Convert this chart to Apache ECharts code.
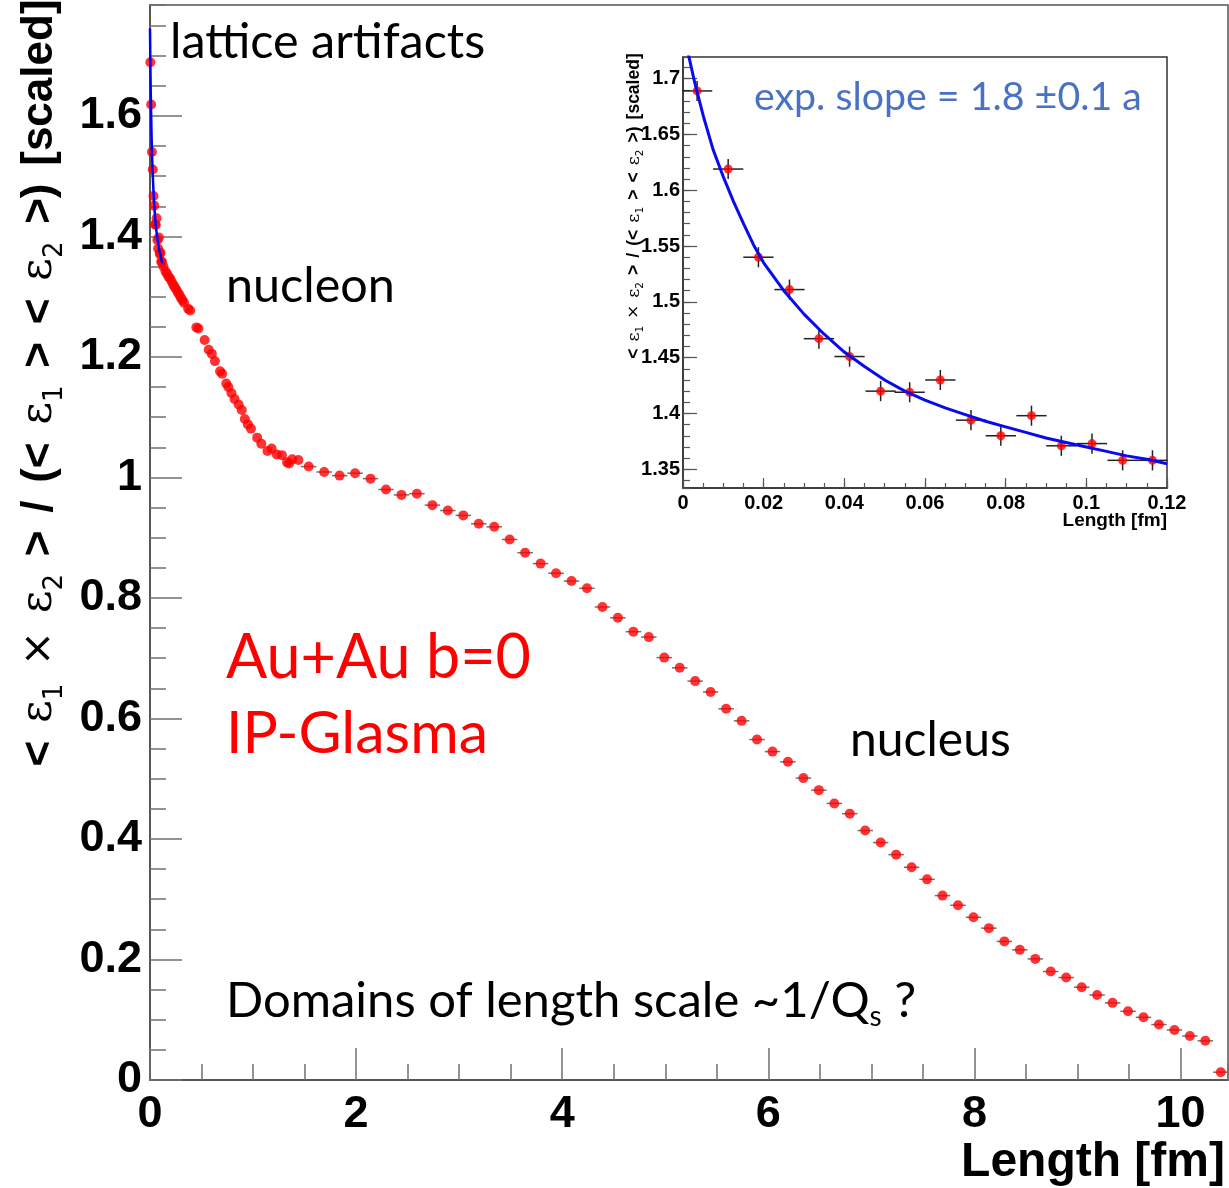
<!DOCTYPE html>
<html>
<head>
<meta charset="utf-8">
<script src="https://cdn.jsdelivr.net/npm/echarts@6/dist/echarts.min.js"></script>
<style>
  html, body { margin: 0; padding: 0; background: #fff; }
  #chart { width: 1229px; height: 1188px; }
</style>
</head>
<body>
<div id="chart"></div>
<script>
// first 16 fine-lattice bins (shown in the inset and at x≈0 of the main plot)
const insetX = [0.0035, 0.0112, 0.0187, 0.0264, 0.0337, 0.0413, 0.0490, 0.0562, 0.0638, 0.0714, 0.0788, 0.0864, 0.0938, 0.1014, 0.1090, 0.1164]
const insetY = [1.689, 1.619, 1.540, 1.511, 1.467, 1.451, 1.420, 1.419, 1.430, 1.394, 1.380, 1.398, 1.371, 1.373, 1.358, 1.358]
const insetXErr = 0.00375
const insetYErr = 0.009

// nucleon-scale region, dense points
const midX = [0.13, 0.15, 0.165, 0.18, 0.195, 0.21, 0.225, 0.24, 0.255, 0.27, 0.285, 0.30, 0.315, 0.33, 0.37, 0.39, 0.45, 0.47, 0.53, 0.57, 0.60, 0.63, 0.68, 0.70, 0.74, 0.76, 0.79, 0.82, 0.86, 0.89, 0.92, 0.95, 0.98, 1.04, 1.08, 1.14, 1.18, 1.23, 1.28, 1.33, 1.35, 1.38, 1.44]
const midY = [1.350, 1.342, 1.338, 1.333, 1.330, 1.325, 1.320, 1.316, 1.312, 1.307, 1.303, 1.298, 1.294, 1.290, 1.280, 1.277, 1.249, 1.247, 1.228, 1.212, 1.205, 1.193, 1.176, 1.172, 1.156, 1.150, 1.140, 1.130, 1.121, 1.112, 1.097, 1.088, 1.081, 1.066, 1.056, 1.044, 1.048, 1.038, 1.037, 1.025, 1.023, 1.030, 1.029]

// nucleus-scale region, 0.15 fm bins
const tailX = [1.54, 1.69, 1.84, 1.99, 2.14, 2.29, 2.44, 2.59, 2.74, 2.89, 3.04, 3.19, 3.34, 3.49, 3.64, 3.79, 3.94, 4.09, 4.24, 4.39, 4.54, 4.69, 4.84, 4.99, 5.14, 5.29, 5.44, 5.59, 5.74, 5.89, 6.04, 6.19, 6.34, 6.49, 6.64, 6.79, 6.94, 7.09, 7.24, 7.39, 7.54, 7.69, 7.84, 7.99, 8.14, 8.29, 8.44, 8.59, 8.74, 8.89, 9.04, 9.19, 9.34, 9.49, 9.64, 9.79, 9.94, 10.09, 10.24, 10.39]
const tailY = [1.018, 1.009, 1.003, 1.007, 0.998, 0.980, 0.971, 0.973, 0.954, 0.945, 0.937, 0.923, 0.918, 0.897, 0.875, 0.857, 0.841, 0.828, 0.816, 0.785, 0.767, 0.744, 0.735, 0.701, 0.684, 0.662, 0.644, 0.616, 0.596, 0.565, 0.545, 0.528, 0.501, 0.481, 0.459, 0.442, 0.414, 0.394, 0.374, 0.353, 0.333, 0.306, 0.290, 0.270, 0.252, 0.230, 0.216, 0.201, 0.180, 0.170, 0.154, 0.141, 0.128, 0.114, 0.104, 0.092, 0.083, 0.073, 0.065, 0.013]
const tailXErr = 0.075

// exponential fit over the first bins
const fitX = [0, 0.0015, 0.003, 0.005, 0.0075, 0.01, 0.0125, 0.015, 0.0175, 0.02, 0.025, 0.03, 0.035, 0.04, 0.045, 0.05, 0.055, 0.06, 0.065, 0.07, 0.075, 0.08, 0.085, 0.09, 0.095, 0.1, 0.105, 0.11, 0.115, 0.12]
const fitY = [1.745, 1.719, 1.695, 1.667, 1.636, 1.612, 1.590, 1.570, 1.551, 1.535, 1.510, 1.489, 1.471, 1.455, 1.442, 1.430, 1.420, 1.412, 1.405, 1.399, 1.393, 1.388, 1.383, 1.378, 1.374, 1.370, 1.366, 1.362, 1.359, 1.355]

const zip = (xs, ys) => xs.map((x, i) => [x, ys[i]])

const chart = echarts.init(document.getElementById("chart"), null, { renderer: "canvas" })

const bold = "Liberation Sans"
const gill = "Lato"

// ROOT-ish axis: ticks inside, no grid
function axis(grid, opts) {
  return Object.assign({
    type: "value",
    gridIndex: grid,
    splitLine: { show: false },
    axisLine: { show: true, onZero: false, lineStyle: { color: "#4a4a4a", width: 1.5 } },
    axisTick: { show: true, inside: true, lineStyle: { color: "#707070", width: 1.5 } },
    axisLabel: { show: false },
  }, opts)
}

// error bars as a custom series
function errBars(xs, ys, ex, ey, xi, yi, color) {
  return {
    type: "custom",
    xAxisIndex: xi,
    yAxisIndex: yi,
    silent: true,
    z: 2,
    data: zip(xs, ys),
    renderItem: (params, api) => {
      const x = api.value(0), y = api.value(1)
      const kids = []
      const a = api.coord([x - ex, y]), b = api.coord([x + ex, y])
      kids.push({ type: "line", shape: { x1: a[0], y1: a[1], x2: b[0], y2: b[1] }, style: { stroke: color, lineWidth: 1.5 } })
      if (ey) {
        const c = api.coord([x, y - ey]), d = api.coord([x, y + ey])
        kids.push({ type: "line", shape: { x1: c[0], y1: c[1], x2: d[0], y2: d[1] }, style: { stroke: color, lineWidth: 1.5 } })
      }
      return { type: "group", children: kids }
    },
  }
}

const yTitleRich = (fs, sub) => ({
  b: { fontFamily: bold, fontWeight: "bold", fontSize: fs, lineHeight: fs * 1.3, verticalAlign: "middle" },
  e: { fontFamily: "DejaVu Serif", fontSize: fs * 1.0, lineHeight: fs * 1.3, verticalAlign: "middle" },
  m: { fontFamily: "DejaVu Sans", fontSize: fs * 0.95, lineHeight: fs * 1.3, verticalAlign: "middle" },
  s: { fontFamily: "DejaVu Sans", fontSize: sub, lineHeight: fs * 1.05, verticalAlign: "bottom" },
  g: { fontFamily: bold, fontWeight: "bold", fontSize: fs * 1.45, lineHeight: fs * 1.3, verticalAlign: "middle" },
})
const yTitleText = "{b|<}{g| }{e|ε}{s|1}{g| }{m|×}{g| }{e|ε}{s|2}{g| }{b|>}{g| }{b|/}{g| }{b|(<}{g| }{e|ε}{s|1}{g| }{b|>}{g| }{b|<}{g| }{e|ε}{s|2}{g| }{b|>)}{g| }{b|[scaled]}"

chart.setOption({
  animation: false,
  backgroundColor: "#fff",
  grid: [
    { left: 150, top: 5, right: 1, bottom: 108, show: true, borderColor: "#555", borderWidth: 1.5, backgroundColor: "transparent" },
    { left: 683, top: 57, width: 484, height: 431, show: true, borderColor: "#333", borderWidth: 1.5, backgroundColor: "#fff" },
  ],
  xAxis: [
    axis(0, {
      position: "bottom", min: 0, max: 10.46, interval: 2,
      axisTick: { show: true, inside: true, length: 32, lineStyle: { color: "#707070", width: 1.5 } },
      axisLabel: { show: true, showMaxLabel: false, margin: 12, fontFamily: bold, fontWeight: "bold", fontSize: 45, color: "#000" },
    }),
    axis(0, {
      position: "bottom", min: 0, max: 10.46, interval: 0.5,
      axisLine: { show: false },
      axisTick: { show: true, inside: true, length: 16, lineStyle: { color: "#707070", width: 1.5 } },
    }),
    axis(1, {
      position: "bottom", min: 0, max: 0.12, interval: 0.02,
      axisLine: { show: true, onZero: false, lineStyle: { color: "#333", width: 1.5 } },
      axisTick: { show: true, inside: true, length: 10, lineStyle: { color: "#555", width: 1.2 } },
      axisLabel: { show: true, margin: 5, fontFamily: bold, fontWeight: "bold", fontSize: 20, color: "#000" },
    }),
    axis(1, {
      position: "bottom", min: 0, max: 0.12, interval: 0.005,
      axisLine: { show: false },
      axisTick: { show: true, inside: true, length: 5, lineStyle: { color: "#555", width: 1.2 } },
    }),
  ],
  yAxis: [
    axis(0, {
      position: "left", min: 0, max: 1.784, interval: 0.2,
      axisTick: { show: true, inside: true, length: 32, lineStyle: { color: "#707070", width: 1.5 } },
      axisLabel: { show: true, showMaxLabel: false, margin: 8, fontFamily: bold, fontWeight: "bold", fontSize: 45, color: "#000" },
    }),
    axis(0, {
      position: "left", min: 0, max: 1.784, interval: 0.05,
      axisLine: { show: false },
      axisTick: { show: true, inside: true, length: 16, lineStyle: { color: "#707070", width: 1.5 } },
    }),
    axis(1, {
      position: "left", min: 1.3332, max: 1.7194, splitNumber: 8,
      axisLine: { show: true, onZero: false, lineStyle: { color: "#333", width: 1.5 } },
      axisTick: { show: true, inside: true, length: 14, lineStyle: { color: "#555", width: 1.2 } },
      axisLabel: { show: true, showMinLabel: false, showMaxLabel: false, margin: 3, fontFamily: bold, fontWeight: "bold", fontSize: 20, color: "#000" },
    }),
    axis(1, {
      position: "left", min: 1.3332, max: 1.7194, splitNumber: 40,
      axisLine: { show: false },
      axisTick: { show: true, inside: true, length: 7, lineStyle: { color: "#555", width: 1.2 } },
    }),
  ],
  series: [
    errBars(tailX, tailY, tailXErr, 0, 0, 0, "#707070"),
    {
      type: "scatter", xAxisIndex: 0, yAxisIndex: 0, z: 3,
      symbol: "circle", symbolSize: 10,
      itemStyle: { color: "#ff0000" },
      data: zip(insetX, insetY).concat(zip(midX, midY), zip(tailX, tailY)),
    },
    {
      type: "line", xAxisIndex: 0, yAxisIndex: 0, z: 4,
      showSymbol: false, smooth: false,
      lineStyle: { color: "#0000ff", width: 2.5 },
      data: zip(fitX, fitY),
    },
    errBars(insetX, insetY, insetXErr, insetYErr, 2, 2, "#222"),
    {
      type: "scatter", xAxisIndex: 2, yAxisIndex: 2, z: 3,
      symbol: "circle", symbolSize: 9,
      itemStyle: { color: "#ff0000" },
      data: zip(insetX, insetY),
    },
    {
      type: "line", xAxisIndex: 2, yAxisIndex: 2, z: 4,
      showSymbol: false, clip: true,
      lineStyle: { color: "#0a0aee", width: 3 },
      data: zip(fitX, fitY),
    },
  ],
  graphic: [
    // axis titles
    {
      type: "text", x: 1225, y: 1163, z: 10,
      style: { text: "Length [fm]", font: `bold 48px "${bold}"`, fill: "#000", textAlign: "right", textVerticalAlign: "middle" },
    },
    {
      type: "text", x: 40, y: 383, rotation: Math.PI / 2, z: 10,
      style: { text: yTitleText, rich: yTitleRich(44, 26), fill: "#000", textAlign: "center", textVerticalAlign: "middle" },
    },
    {
      type: "text", x: 1167, y: 521, z: 10,
      style: { text: "Length [fm]", font: `bold 19px "${bold}"`, fill: "#000", textAlign: "right", textVerticalAlign: "middle" },
    },
    {
      type: "text", x: 634, y: 206, rotation: Math.PI / 2, z: 10,
      style: { text: yTitleText, rich: yTitleRich(17.5, 10.5), fill: "#000", textAlign: "center", textVerticalAlign: "middle" },
    },
    // annotations
    {
      type: "text", x: 170, y: 42, z: 10,
      style: { text: "lattice artifacts", font: `48.5px "${gill}"`, fill: "#000", textAlign: "left", textVerticalAlign: "middle" },
    },
    {
      type: "text", x: 226, y: 286, z: 10,
      style: { text: "nucleon", font: `48.5px "${gill}"`, fill: "#000", textAlign: "left", textVerticalAlign: "middle" },
    },
    {
      type: "text", x: 850, y: 741, z: 10,
      style: { text: "nucleus", font: `48px "${gill}"`, fill: "#000", textAlign: "left", textVerticalAlign: "middle" },
    },
    {
      type: "text", x: 226, y: 658, z: 10,
      style: { text: "Au+Au b=0", font: `61px "${gill}"`, fill: "#ff0000", textAlign: "left", textVerticalAlign: "middle" },
    },
    {
      type: "text", x: 226, y: 734, z: 10,
      style: { text: "IP-Glasma", font: `59px "${gill}"`, fill: "#ff0000", textAlign: "left", textVerticalAlign: "middle" },
    },
    {
      type: "text", x: 226, y: 1001, z: 10,
      style: {
        text: "{t|Domains of length scale ~1/Q}{s|s}{t| ?}",
        rich: {
          t: { fontFamily: gill, fontSize: 49, lineHeight: 60, verticalAlign: "middle", color: "#000" },
          s: { fontFamily: gill, fontSize: 28, lineHeight: 46, verticalAlign: "bottom", color: "#000" },
        },
        textAlign: "left", textVerticalAlign: "middle",
      },
    },
    {
      type: "text", x: 754, y: 97, z: 10,
      style: { text: "exp. slope = 1.8 ±0.1 a", font: `39.3px "${gill}"`, fill: "#4a72c4", textAlign: "left", textVerticalAlign: "middle" },
    },
  ],
})
</script>
</body>
</html>
